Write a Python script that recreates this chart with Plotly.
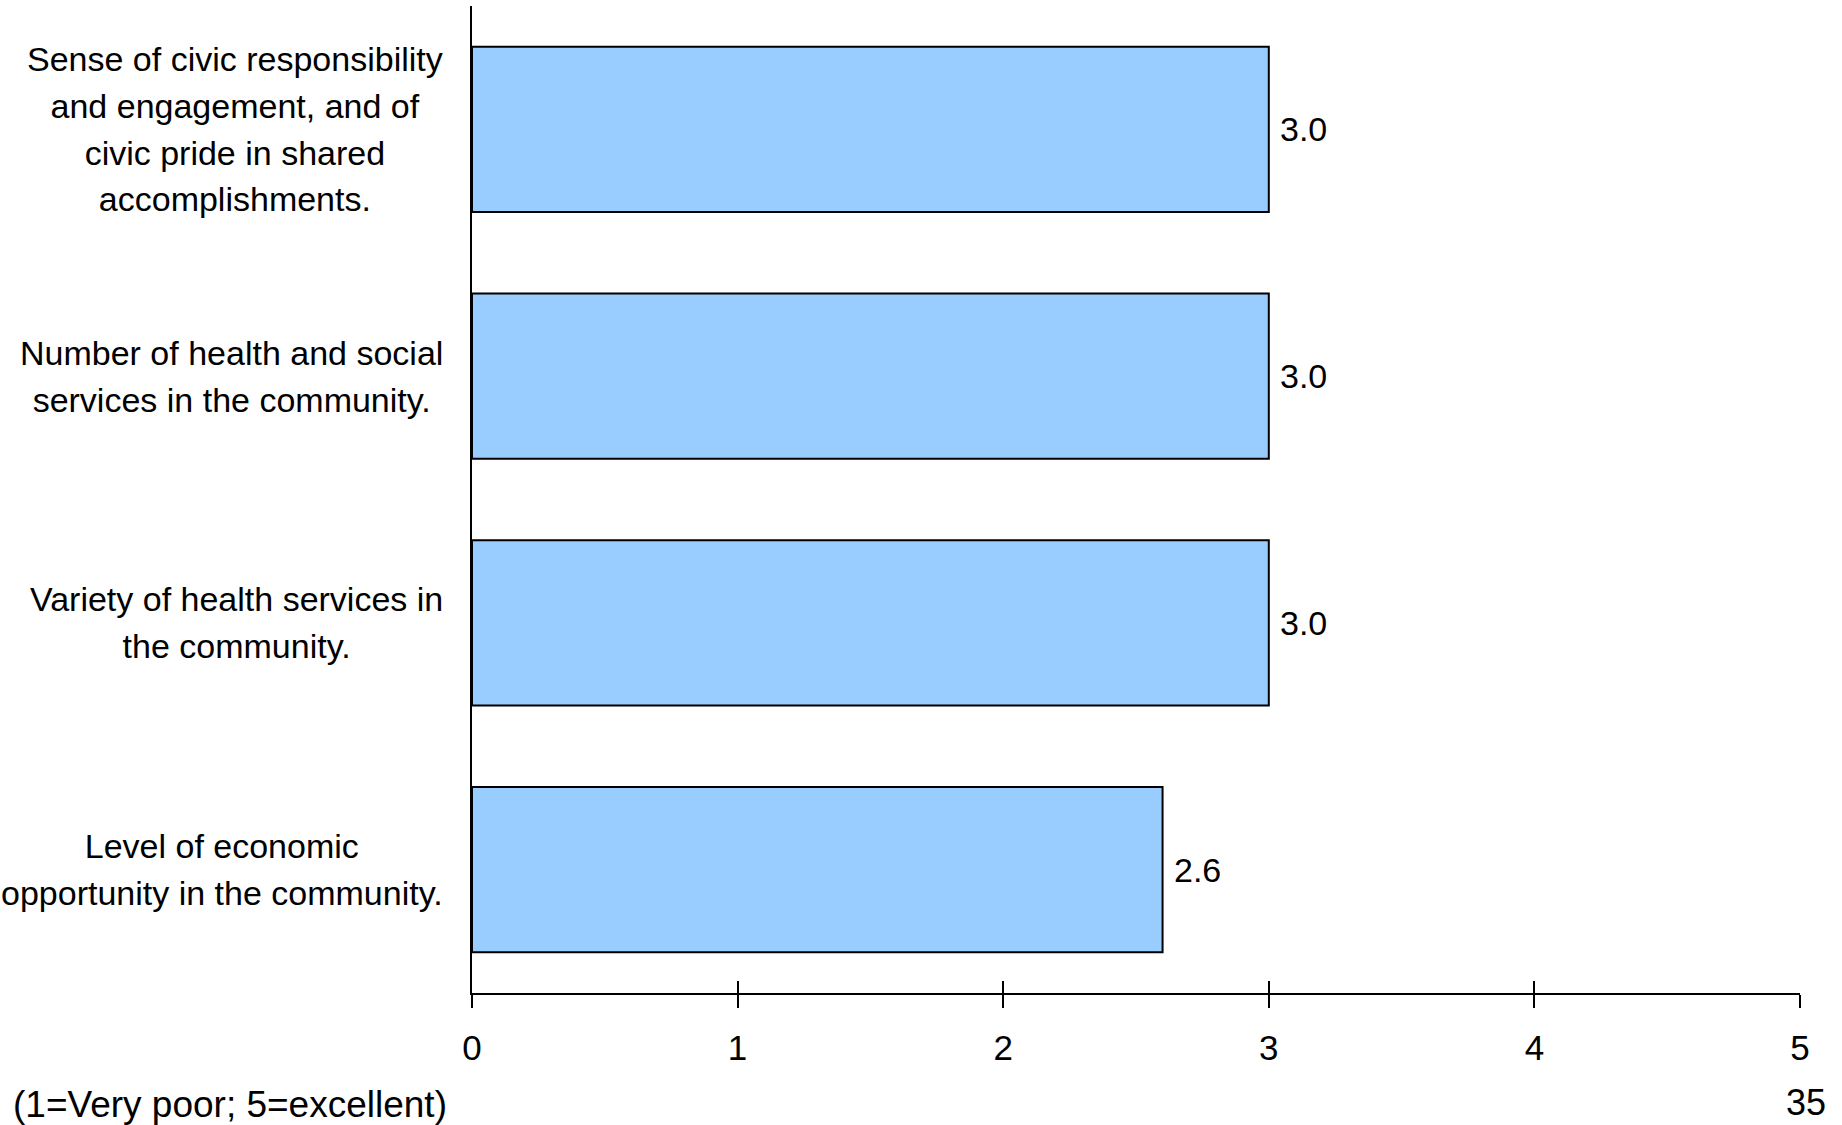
import plotly.graph_objects as go

categories = [
    "Sense of civic responsibility<br>and engagement, and of<br>civic pride in shared<br>accomplishments.",
    "Number of health and social<br>services in the community.",
    "Variety of health services in<br>the community.",
    "Level of economic<br>opportunity in the community.",
]
values = [3.0, 3.0, 3.0, 2.6]
x_ticks = [0, 1, 2, 3, 4, 5]
footnote = "(1=Very poor; 5=excellent)"
page_number = "35"

FONT = "Liberation Sans, Arial, sans-serif"
W, H = 1842, 1125
L, R, T, B = 472, 42, 6, 132
PW, PH = W - L - R, H - T - B

fig = go.Figure()
fig.add_trace(go.Bar(
    x=values, y=categories, orientation="h",
    marker=dict(color="#99CCFF", line=dict(color="#000000", width=2)),
    hoverinfo="skip", showlegend=False,
))
# invisible trace so the overlay x-axis (inner tick halves) is drawn
fig.add_trace(go.Scatter(
    x=[x_ticks[0]], y=[categories[0]], xaxis="x2", yaxis="y",
    mode="markers", marker=dict(opacity=0), hoverinfo="skip", showlegend=False,
))


def narrow(text, size):
    # keep line spacing of the outer font while drawing glyphs slightly smaller
    return "<br>".join(f'<span style="font-size:{size}px">{ln}</span>' for ln in text.split("<br>"))


annotations = []
for c in categories:
    annotations.append(dict(
        x=-(L - 445) / PW, xref="paper", y=c, yref="y",
        text=narrow(c, 34), showarrow=False, xanchor="right", yanchor="middle", align="center",
        font=dict(family=FONT, size=36, color="#000000"),
    ))
for c, v in zip(categories, values):
    annotations.append(dict(
        x=v, xref="x", y=c, yref="y", text=f"{v:.1f}", showarrow=False,
        xanchor="left", yanchor="middle", xshift=9,
        font=dict(family=FONT, size=34, color="#000000"),
    ))
annotations.append(dict(
    x=(11 - L) / PW, xref="paper", y=(H - B - 1127) / PH, yref="paper",
    text=footnote, showarrow=False, xanchor="left", yanchor="bottom",
    font=dict(family=FONT, size=37, color="#000000"),
))
annotations.append(dict(
    x=(1828 - L) / PW, xref="paper", y=(H - B - 1102) / PH, yref="paper",
    text=page_number, showarrow=False, xanchor="right", yanchor="middle",
    font=dict(family=FONT, size=36, color="#000000"),
))

axis_x = dict(
    range=[x_ticks[0], x_ticks[-1]], tickvals=x_ticks, showgrid=False, zeroline=False,
    showline=True, linecolor="#000000", linewidth=2,
    tickcolor="#000000", tickwidth=2,
)
fig.update_layout(
    width=W, height=H,
    margin=dict(l=L, r=R, t=T, b=B, pad=0),
    paper_bgcolor="white", plot_bgcolor="white",
    bargap=0.33,
    font=dict(family=FONT, size=35, color="#000000"),
    xaxis=dict(**axis_x, ticks="outside", ticklen=13,
               tickfont=dict(family=FONT, size=35, color="#000000"),
               ticklabelstandoff=10),
    xaxis2=dict(**axis_x, ticks="inside", ticklen=12, showticklabels=False,
                overlaying="x", anchor="y", side="bottom"),
    yaxis=dict(type="category", autorange="reversed", showticklabels=False,
               ticks="", showgrid=False, zeroline=False,
               showline=True, linecolor="#000000", linewidth=2),
    annotations=annotations,
)

fig.write_html("out.html", config={"displayModeBar": False},
               post_script="document.body.style.margin='0';")
